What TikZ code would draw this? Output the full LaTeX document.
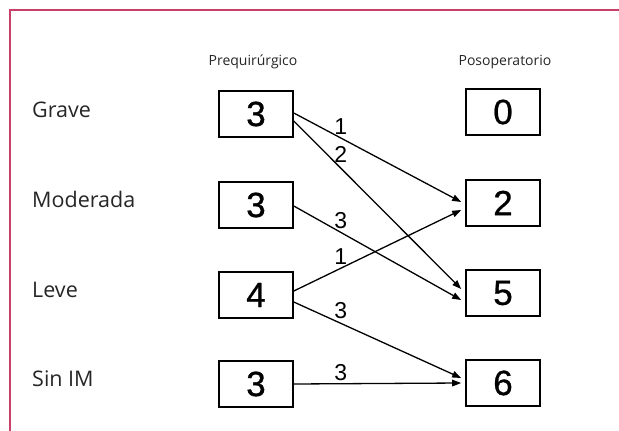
\documentclass[tikz,border=0pt]{standalone}
\usepackage{fontspec}
\setmainfont{Open Sans}
\newfontfamily\arialf{Liberation Sans}
\newfontfamily\arialh[FakeBold=0.8]{Liberation Sans}
\usetikzlibrary{arrows.meta}
\definecolor{framec}{HTML}{C8406A}
\definecolor{txt}{HTML}{262626}
\begin{document}
\begin{tikzpicture}[x=1pt,y=-1pt,
  numbox/.style={draw,line width=1.6pt,minimum width=74pt,minimum height=46pt,inner sep=0pt,font=\arialh\fontsize{35}{36}\selectfont},
  rowlab/.style={anchor=base west,inner sep=0pt,text=txt,font=\fontsize{21.5}{24}\selectfont},
  headlab/.style={anchor=base,inner sep=0pt,text=txt,font=\fontsize{14}{16}\selectfont},
  flow/.style={line width=1.3pt,-{Triangle[length=9pt,width=6.5pt]}},
  cnt/.style={font=\arialf\fontsize{23}{24}\selectfont,inner sep=0pt}]
\useasboundingbox (0,0) rectangle (619,431);
\fill[white] (0,0) rectangle (619,431);
\draw[framec,line width=1.2pt] (10,431) -- (10,10) -- (619,10);

\node[headlab] (h1) at (253,65) {Prequirúrgico};
\node[headlab] (h2) at (505,65) {Posoperatorio};

\node[rowlab] (t1) at (32,117) {Grave};
\node[rowlab] (t2) at (32,207) {Moderada};
\node[rowlab] (t3) at (32,297) {Leve};
\node[rowlab] (t4) at (32,386) {Sin IM};

\node[numbox] (l1) at (256,114) {3};
\node[numbox] (l2) at (256,205) {3};
\node[numbox] (l3) at (256,295) {4};
\node[numbox] (l4) at (256,384) {3};

\node[numbox] (r1) at (503,112) {0};
\node[numbox] (r2) at (503,203) {2};
\node[numbox] (r3) at (503,293) {5};
\node[numbox] (r4) at (503,383) {6};

\draw[flow] ([yshift=1pt]l1.east) -- node[cnt,pos=0.28,anchor=south,yshift=3pt] {1} ([xshift=-4pt,yshift=1pt]r2.west);
\draw[flow] ([yshift=-7pt]l1.east) -- node[cnt,pos=0.28,anchor=south,yshift=5pt] {2} ([xshift=-4pt,yshift=4pt]r3.west);
\draw[flow] ([yshift=-1pt]l2.east) -- node[cnt,pos=0.28,anchor=south,yshift=2.5pt] {3} ([xshift=-4pt,yshift=-7pt]r3.west);
\draw[flow] ([yshift=4pt]l3.east) -- node[cnt,pos=0.28,anchor=south,yshift=3pt] {1} ([xshift=-4pt,yshift=-7pt]r2.west);
\draw[flow] ([yshift=-7pt]l3.east) -- node[cnt,pos=0.28,anchor=south,yshift=4pt] {3} ([xshift=-4pt,yshift=5pt]r4.west);
\draw[flow] ([yshift=0pt]l4.east) -- node[cnt,pos=0.28,anchor=south,yshift=2.5pt] {3} ([xshift=-4pt,yshift=0pt]r4.west);
\end{tikzpicture}
\end{document}
